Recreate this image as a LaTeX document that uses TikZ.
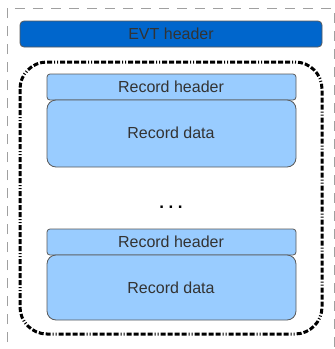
\documentclass[tikz,border=0pt]{standalone}
\usepackage{fontspec}
\setmainfont{Liberation Sans}
\definecolor{evtblue}{HTML}{0066CC}
\definecolor{recblue}{HTML}{99CCFF}
\definecolor{edgegray}{HTML}{5A5A5A}
\definecolor{txtgray}{HTML}{333333}
\definecolor{bordergray}{HTML}{A0A0A0}
\begin{document}
\begin{tikzpicture}[x=1pt,y=-1pt,
  box/.style={draw=edgegray,line width=0.8pt,inner sep=0pt,text=txtgray,font=\fontsize{16}{18}\selectfont},
  hdr/.style={box,fill=recblue,rounded corners=3pt},
  dat/.style={box,fill=recblue,rounded corners=9pt},
  evt/.style={box,fill=evtblue,rounded corners=4pt},
  lbl/.style={text=txtgray,font=\fontsize{16}{18}\selectfont},
  frame/.style={draw=bordergray,line width=0.8pt,dash pattern=on 10pt off 8pt},
  group/.style={draw=black,line width=3pt,rounded corners=27pt,
    dash pattern=on 5pt off 2pt on 5pt off 2pt on 5pt off 2pt on 5pt off 2pt on 1pt off 2pt on 1pt off 2pt}]
\useasboundingbox (0,0) rectangle (335,349);
\fill[white] (0,0) rectangle (335,349);
% outer dashed frame (cropped)
\draw[frame] (7,360) -- (7,8) -- (334,8) -- (334,360);
% EVT header
\path[evt] (20,21) rectangle (322,47);
\node[lbl] (evt) at (171,34) {EVT header};
% group
\draw[group] (20,62) rectangle (322,334);
% records
\path[hdr] (47,74) rectangle (296,100);
\node[lbl] (rh1) at (171,87) {Record header};
\path[dat] (47,100) rectangle (296,167);
\node[lbl] (rd1) at (171,133) {Record data};
\node[text=black,inner sep=0pt,font=\fontsize{17}{18}\selectfont\bfseries] (dots) at (171,207) {.\hspace{4.5pt}.\hspace{4.5pt}.};
\path[hdr] (47,229) rectangle (296,255);
\node[lbl] (rh2) at (171,242) {Record header};
\path[dat] (47,255) rectangle (296,320);
\node[lbl] (rd2) at (171,288) {Record data};
\end{tikzpicture}
\end{document}
